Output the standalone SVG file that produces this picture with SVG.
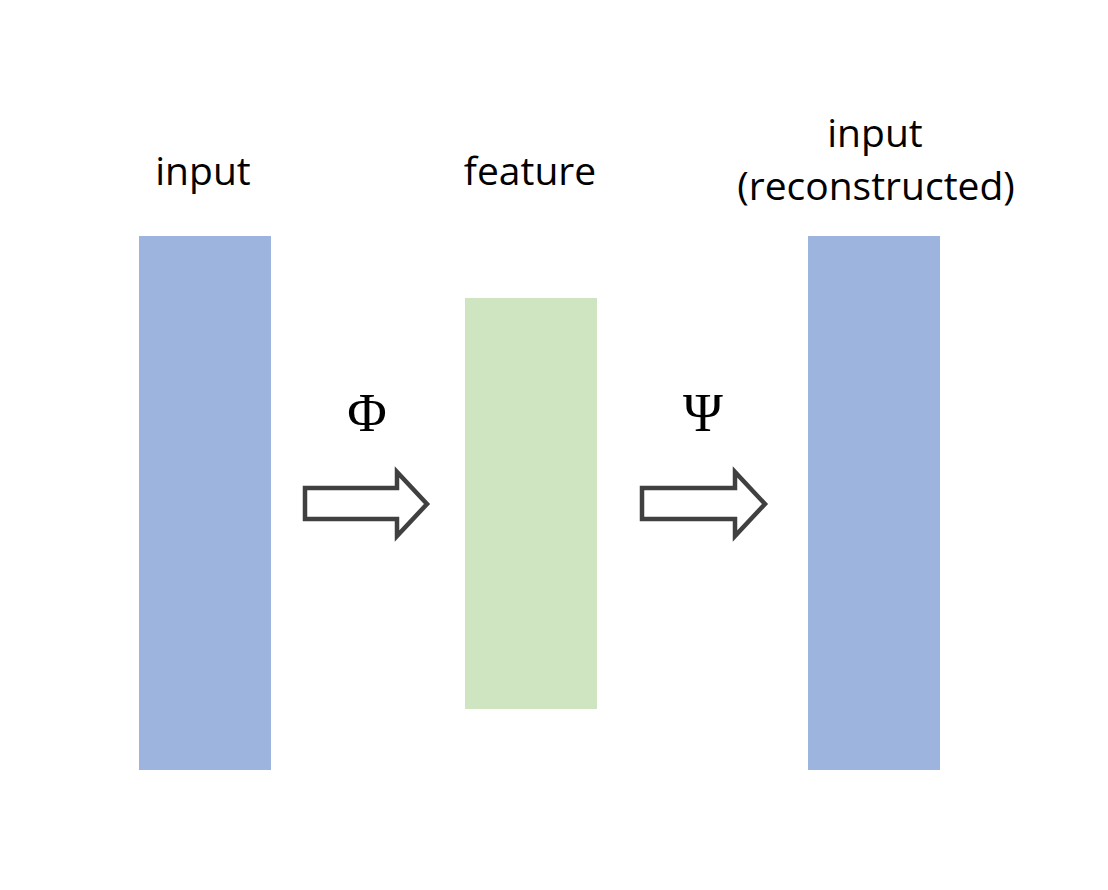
<svg xmlns="http://www.w3.org/2000/svg" width="1108" height="890" viewBox="0 0 1108 890">
<style>
.lbl{font-family:"Open Sans","Noto Sans",sans-serif;font-size:39px;fill:#000;text-anchor:middle}
.greek{font-family:"Liberation Serif","DejaVu Serif",serif;font-size:54px;fill:#000;text-anchor:middle}
.blue{fill:#9DB4DF}
.green{fill:#CFE4C0}
.arrow{fill:#fff;stroke:#404040;stroke-width:4.5;stroke-linejoin:miter}
</style>
<rect width="1108" height="890" fill="#fff"/>
<g id="input">
<rect class="blue" x="139" y="236" width="132" height="534"/>
<text class="lbl" x="203" y="185">input</text>
</g>
<g id="feature">
<rect class="green" x="465" y="298" width="132" height="411"/>
<text class="lbl" x="530" y="185">feature</text>
</g>
<g id="reconstructed">
<rect class="blue" x="808" y="236" width="132" height="534"/>
<text class="lbl" x="875" y="147">input</text>
<text class="lbl" x="876" y="200">(reconstructed)</text>
</g>
<g id="connectors">
<g id="phi">
<path class="arrow" d="M305,488 H397 V472 L427,504 L397,536 V519 H305 Z"/>
<text class="greek" x="367" y="431">Φ</text>
</g>
<g id="psi">
<path class="arrow" d="M642,488 H735 V472 L765,504 L735,536 V519 H642 Z"/>
<text class="greek" x="703" y="431">Ψ</text>
</g>
</g>
</svg>
